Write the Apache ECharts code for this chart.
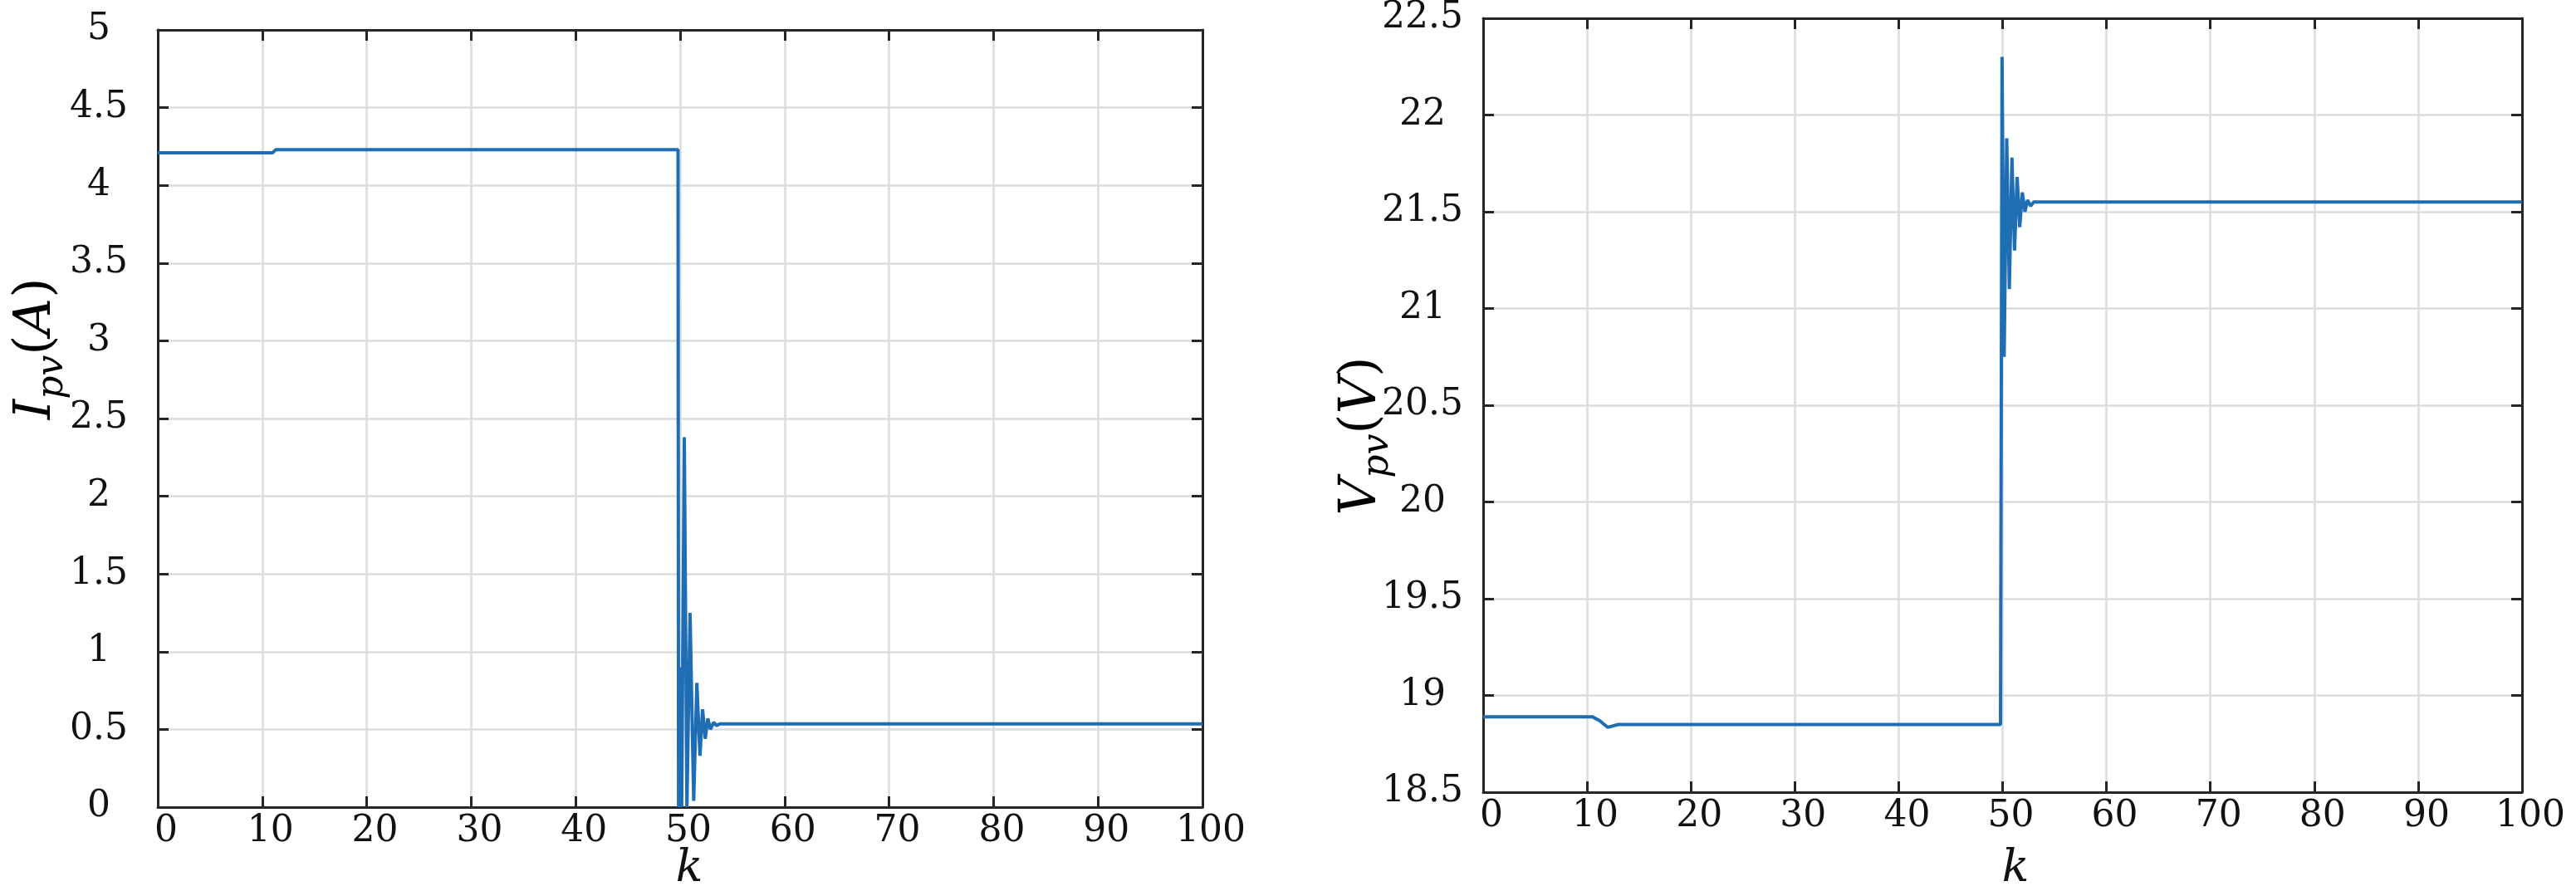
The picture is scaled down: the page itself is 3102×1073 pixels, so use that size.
<!DOCTYPE html>
<html>
<head>
<meta charset="utf-8">
<script src="https://cdn.jsdelivr.net/npm/echarts@6/dist/echarts.min.js"></script>
<style>
html,body{margin:0;padding:0;background:#fff;}
#chart{width:3102px;height:1073px;}
</style>
</head>
<body>
<div id="chart"></div>
<script>
// ---- data ----
const kCurrent = [0, 11.0, 11.3, 49.8, 49.85, 50.05, 50.15, 50.4, 50.65, 50.95, 51.3, 51.6, 51.9, 52.15, 52.4, 52.65, 52.9, 53.2, 53.5, 53.8, 100];
const current  = [4.21, 4.21, 4.23, 4.23, 0.0, 0.9, 0.0, 2.38, 0.0, 1.25, 0.04, 0.80, 0.33, 0.63, 0.44, 0.57, 0.50, 0.545, 0.525, 0.535, 0.535];

const kVoltage = [0, 10.5, 11.2, 12.0, 13.0, 49.8, 49.95, 50.15, 50.4, 50.65, 50.9, 51.15, 51.4, 51.65, 51.9, 52.15, 52.4, 52.7, 53.0, 100];
const voltage  = [18.89, 18.89, 18.87, 18.835, 18.85, 18.85, 22.3, 20.75, 21.88, 21.1, 21.78, 21.3, 21.68, 21.42, 21.6, 21.5, 21.56, 21.53, 21.55, 21.55];

const xTicks = {min: 0, max: 100, interval: 10};
const currentTicks = {min: 0, max: 5, interval: 0.5};
const voltageTicks = {min: 18.5, max: 22.5, interval: 0.5};

const xTitle = 'k';
const currentTitle = ['I', 'pv', 'A'];
const voltageTitle = ['V', 'pv', 'V'];

// ---- styling ----
const AX = '#262626';
const GRID = '#dcdcdc';
const LINE = '#1f6db2';
const TF = 'DejaVu Serif';

function zip(a, b) { return a.map((v, i) => [v, b[i]]); }

function xAxes(gi) {
  return [
    {
      type: 'value', gridIndex: gi, position: 'bottom',
      min: xTicks.min, max: xTicks.max, interval: xTicks.interval,
      axisLine: {show: true, onZero: false, lineStyle: {color: AX, width: 3}},
      axisTick: {show: true, inside: true, length: 13, lineStyle: {color: AX, width: 3}},
      axisLabel: {show: true, margin: 8, color: '#111', fontFamily: TF, fontSize: 44, padding: [0, 0, 0, 20]},
      splitLine: {show: true, lineStyle: {color: GRID, width: 2.5}}
    },
    {
      type: 'value', gridIndex: gi, position: 'top',
      min: xTicks.min, max: xTicks.max, interval: xTicks.interval,
      axisLine: {show: true, onZero: false, lineStyle: {color: AX, width: 3}},
      axisTick: {show: true, inside: true, length: 13, lineStyle: {color: AX, width: 3}},
      axisLabel: {show: false},
      splitLine: {show: false}
    }
  ];
}

function yAxes(gi, t, margin) {
  return [
    {
      type: 'value', gridIndex: gi, position: 'left',
      min: t.min, max: t.max, interval: t.interval,
      axisLine: {show: true, onZero: false, lineStyle: {color: AX, width: 3}},
      axisTick: {show: true, inside: true, length: 13, lineStyle: {color: AX, width: 3}},
      axisLabel: {show: true, margin: margin, align: 'center', color: '#111', fontFamily: TF, fontSize: 44},
      splitLine: {show: true, lineStyle: {color: GRID, width: 2.5}}
    },
    {
      type: 'value', gridIndex: gi, position: 'right',
      min: t.min, max: t.max, interval: t.interval,
      axisLine: {show: true, onZero: false, lineStyle: {color: AX, width: 3}},
      axisTick: {show: true, inside: true, length: 13, lineStyle: {color: AX, width: 3}},
      axisLabel: {show: false},
      splitLine: {show: false}
    }
  ];
}

const richTitle = {
  i: {fontFamily: TF, fontStyle: 'italic', fontSize: 62, lineHeight: 84, verticalAlign: 'middle', color: '#111'},
  r: {fontFamily: TF, fontSize: 62, lineHeight: 84, verticalAlign: 'middle', color: '#111'},
  s: {fontFamily: TF, fontStyle: 'italic', fontSize: 44, lineHeight: 44, verticalAlign: 'bottom', color: '#111'}
};
function titleText(p) {
  return '{i|' + p[0] + '}{s|' + p[1] + '}{r|(}{i|' + p[2] + '}{r|)}';
}

const chart = echarts.init(document.getElementById('chart'), null, {renderer: 'canvas'});
chart.setOption({
  backgroundColor: '#ffffff',
  animation: false,
  grid: [
    {left: 190, top: 36, width: 1258, height: 936, containLabel: false},
    {left: 1786, top: 15, width: 1251, height: 939, containLabel: false}
  ],
  xAxis: [].concat(xAxes(0), xAxes(1)),
  yAxis: [].concat(yAxes(0, currentTicks, 71), yAxes(1, voltageTicks, 73)),
  series: [
    {
      type: 'line', xAxisIndex: 0, yAxisIndex: 0,
      data: zip(kCurrent, current), showSymbol: false,
      lineStyle: {color: LINE, width: 4}
    },
    {
      type: 'line', xAxisIndex: 2, yAxisIndex: 2,
      data: zip(kVoltage, voltage), showSymbol: false,
      lineStyle: {color: LINE, width: 4}
    }
  ],
  graphic: [
    {type: 'text', x: 830, y: 1047, style: {text: xTitle, fontFamily: TF, fontStyle: 'italic', fontSize: 54, fill: '#111', align: 'center', verticalAlign: 'middle'}},
    {type: 'text', x: 2427, y: 1047, style: {text: xTitle, fontFamily: TF, fontStyle: 'italic', fontSize: 54, fill: '#111', align: 'center', verticalAlign: 'middle'}},
    {type: 'text', x: 44, y: 420, rotation: Math.PI / 2, style: {text: titleText(currentTitle), rich: richTitle, align: 'center', verticalAlign: 'middle'}},
    {type: 'text', x: 1640, y: 525, rotation: Math.PI / 2, style: {text: titleText(voltageTitle), rich: richTitle, align: 'center', verticalAlign: 'middle'}}
  ]
});
</script>
</body>
</html>
